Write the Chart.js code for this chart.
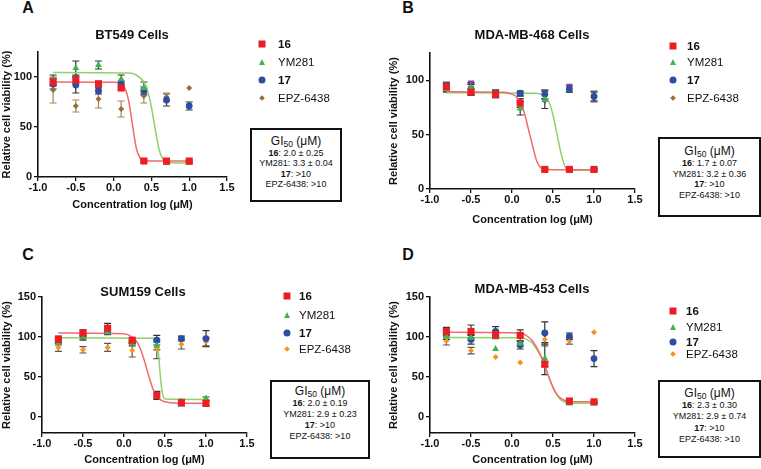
<!DOCTYPE html>
<html><head><meta charset="utf-8">
<script src="https://cdn.jsdelivr.net/npm/chart.js@4.4.0/dist/chart.umd.min.js"></script>
<style>
body{margin:0;width:761px;height:469px;background:#fff;position:relative;overflow:hidden;font-family:"Liberation Sans",Arial,sans-serif;color:#111;}
canvas{position:absolute;}
.letter{position:absolute;font-weight:bold;font-size:16px;transform:translate(-50%,-50%);}
.ptitle{position:absolute;font-weight:bold;font-size:13px;transform:translate(-50%,-50%);white-space:nowrap;}
.leg{position:absolute;font-size:11.5px;white-space:nowrap;transform:translateY(-50%);line-height:13px;}
.mk{position:absolute;transform:translate(-50%,-50%);}
.box{position:absolute;border:2px solid #111;box-sizing:border-box;text-align:center;white-space:nowrap;}
.box .t{font-size:12px;}
.box .l{font-size:9px;}
sub{font-size:8.5px;vertical-align:-2px;line-height:0;}
</style></head><body>
<script>
// ---------- shared data ----------
const concLog = [-0.8, -0.5, -0.2, 0.1, 0.4, 0.7, 1.0];
const xTicks = [-1.0, -0.5, 0.0, 0.5, 1.0, 1.5];
const yTicksAB = [0, 50, 100];
const yTicksCD = [0, 50, 100, 150];
const seriesNames = ['16', 'YM281', '17', 'EPZ-6438'];
const panelTitles = ['BT549 Cells', 'MDA-MB-468 Cells', 'SUM159 Cells', 'MDA-MB-453 Cells'];
const panelLetters = ['A', 'B', 'C', 'D'];

// ---------- A: BT549 ----------
const a16 = [95, 97, 93, 89, 16, 16, 16];
const a16Err = [4, 4, 3, 2, 1, 1, 1];
const aYM = [97, 109, 112, 98, 89, 14, 14];
const aYMErr = [5, 7, 4, 4, 6, 1, 1];
const a17 = [93, 92, 86, 93, 86, 77, 71];
const a17Err = [5, 8, 3, 3, 4, 6, 4];
const aEPZ = [87, 71, 78, 68, 81, 80, 89];
const aEPZErr = [13, 6, 9, 8, 7, 4, 0];
const aFit16X = [-0.8, 0.0, 0.1, 0.15, 0.2, 0.25, 0.3, 0.35, 0.4, 0.5, 1.0];
const aFit16Y = [95, 94.8, 93.5, 89, 76, 52, 29, 19, 16.5, 16, 16];
const aFitYMX = [-0.8, 0.2, 0.3, 0.4, 0.45, 0.5, 0.55, 0.6, 0.65, 0.7, 1.0];
const aFitYMY = [104.5, 104, 102, 95, 86, 70, 48, 28, 18, 14.5, 14];
const aGI = ['2.0 ± 0.25', '3.3 ± 0.04', '>10', '>10'];

// ---------- B: MDA-MB-468 ----------
const b16 = [94, 89, 87, 79, 18, 18, 18];
const b16Err = [3, 3, 3, 4, 1, 1, 1];
const bYM = [92, 93, 88, 74, 82, 18, 17];
const bYMErr = [3, 5, 3, 6, 8, 1, 1];
const b17 = [95, 92, 88, 88, 87, 92, 85];
const b17Err = [3, 4, 3, 2, 4, 3, 4];
const bEPZ = [94, 92, 87, 87, 87, 92, 85];
const bEPZErr = [4, 5, 3, 2, 4, 3, 5];
const bExtra = [96, 98, 88, null, 81, 95, 85];
const bFit16X = [-0.8, -0.1, 0.0, 0.05, 0.1, 0.15, 0.2, 0.25, 0.3, 0.35, 0.4, 1.0];
const bFit16Y = [89.5, 89, 87, 85, 80, 70, 55, 40, 26, 19.5, 18, 17.7];
const bFitYMX = [-0.8, 0.3, 0.4, 0.45, 0.5, 0.55, 0.6, 0.65, 0.7, 1.0];
const bFitYMY = [88.5, 88, 85, 80, 68, 50, 32, 20, 17.5, 17.2];
const bGI = ['1.7 ± 0.07', '3.2 ± 0.36', '>10', '>10'];

// ---------- C: SUM159 ----------
const c16 = [97, 105, 111, 96, 27, 18, 17];
const c16Err = [4, 4, 6, 3, 5, 4, 3];
const cYM = [93, 100, 106, 92, 89, 19, 23];
const cYMErr = [3, 4, 3, 3, 5, 2, 2];
const c17 = [96, 102, 107, 95, 96, 98, 98];
const c17Err = [3, 4, 3, 3, 6, 3, 10];
const cEPZ = [87, 84, 87, 83, 85, 91, 94];
const cEPZErr = [5, 4, 5, 8, 12, 6, 5];
const cFit16X = [-0.8, 0.0, 0.1, 0.15, 0.2, 0.25, 0.3, 0.35, 0.4, 0.45, 0.5, 0.6, 1.0];
const cFit16Y = [105, 104, 100, 95, 85, 70, 52, 36, 26, 21, 19, 17.5, 17];
const cFitYMX = [-0.8, 0.38, 0.4, 0.42, 0.44, 0.46, 0.48, 0.5, 1.0];
const cFitYMY = [99, 98.5, 95, 80, 55, 35, 25, 22.5, 22];
const cGI = ['2.0 ± 0.19', '2.9 ± 0.23', '>10', '>10'];

// ---------- D: MDA-MB-453 ----------
const d16 = [107, 107, 103, 102, 66, 20, 19];
const d16Err = [5, 8, 5, 7, 3, 2, 1];
const dYM = [101, 99, 85, 92, 73, 17, 17];
const dYMErr = [4, 3, 0, 3, 20, 1, 1];
const d17 = [103, 97, 107, 90, 105, 101, 73];
const d17Err = [6, 6, 6, 5, 14, 4, 10];
const dEPZ = [95, 83, 75, 68, 97, 95, 106];
const dEPZErr = [5, 4, 0, 0, 8, 4, 0];
const dFit16X = [-0.8, 0.1, 0.2, 0.25, 0.3, 0.35, 0.4, 0.45, 0.5, 0.55, 0.6, 0.65, 0.7, 1.0];
const dFit16Y = [106, 105, 100, 95, 87, 77, 64, 50, 37, 28, 23, 20.5, 19.5, 19];
const dFitYMX = [-0.8, 0.1, 0.2, 0.25, 0.3, 0.35, 0.4, 0.45, 0.5, 0.55, 0.6, 0.65, 0.7, 1.0];
const dFitYMY = [99.5, 99, 96, 92, 85, 76, 64, 50, 37, 27, 21, 18.5, 17.5, 17];
const dGI = ['2.3 ± 0.30', '2.9 ± 0.74', '>10', '>10'];

// ---------- styles ----------
const RED = '#EE1D24', GREEN = '#3DB54A', BLUE = '#2B4DA6', BROWN = '#9B6B3A', ORANGE = '#F7931E', PURPLE = '#8B3FA3';
const RED_LINE = '#F26A6A', GREEN_LINE = '#8FD16E';
const FONT = '"Liberation Sans", Arial, sans-serif';

const pts = (ys) => concLog.map((x, i) => ({x, y: ys[i]}));
const curve = (xs, ys) => xs.map((x, i) => ({x, y: ys[i]}));

const errorBars = {
  id: 'errorBars',
  beforeDatasetsDraw(chart) {
    const ctx = chart.ctx, ys = chart.scales.y;
    chart.data.datasets.forEach((ds, i) => {
      if (!ds.errors) return;
      const meta = chart.getDatasetMeta(i);
      ctx.save();
      ctx.strokeStyle = ds.errorColor || '#333';
      ctx.lineWidth = 1.2;
      meta.data.forEach((pt, j) => {
        const e = ds.errors[j], v = ds.data[j].y;
        if (!e || v == null) return;
        const y1 = ys.getPixelForValue(v + e), y2 = ys.getPixelForValue(v - e);
        ctx.beginPath();
        ctx.moveTo(pt.x, y1); ctx.lineTo(pt.x, y2);
        ctx.moveTo(pt.x - 3.5, y1); ctx.lineTo(pt.x + 3.5, y1);
        ctx.moveTo(pt.x - 3.5, y2); ctx.lineTo(pt.x + 3.5, y2);
        ctx.stroke();
      });
      ctx.restore();
    });
  }
};

function markerDs(label, ys, errs, color, style, r, order, errColor, rot) {
  return {label, data: pts(ys), errors: errs, errorColor: errColor || '#333',
    pointStyle: style, pointRadius: r, pointRotation: rot || 0, backgroundColor: color, borderColor: color,
    borderWidth: 0, showLine: false, order};
}
function fitDs(xs, ys, color) {
  return {data: curve(xs, ys), showLine: true, pointRadius: 0, borderColor: color, borderWidth: 1.5,
    cubicInterpolationMode: 'monotone', fill: false, order: 20};
}

function makePanel(g, yMin, yMax, yTicks, datasets) {
  const c = document.createElement('canvas');
  const cw = g.R + g.padRight - g.cx, ch = g.B + g.xH - g.cy;
  c.width = cw; c.height = ch;
  c.style.left = g.cx + 'px'; c.style.top = g.cy + 'px';
  c.style.width = cw + 'px'; c.style.height = ch + 'px';
  document.body.appendChild(c);
  const axisColor = '#111';
  new Chart(c, {
    type: 'scatter',
    data: {datasets},
    plugins: [errorBars],
    options: {
      responsive: false, animation: false, devicePixelRatio: 1,
      layout: {padding: {left: 0, top: g.T - g.cy, right: g.padRight, bottom: 0}},
      plugins: {legend: {display: false}, tooltip: {enabled: false}},
      scales: {
        x: {type: 'linear', min: -1, max: 1.5,
          afterBuildTicks: s => { s.ticks = xTicks.map(v => ({value: v})); },
          afterFit: s => { s.height = g.xH; },
          ticks: {callback: v => Number(v).toFixed(1), font: {family: FONT, size: 11, weight: 'bold'}, color: axisColor, padding: 0, maxRotation: 0, autoSkip: false},
          grid: {display: true, drawOnChartArea: false, drawTicks: true, tickLength: 4, color: axisColor, lineWidth: 1.3},
          border: {display: true, color: axisColor, width: 1.6},
          title: {display: true, text: 'Concentration log (μM)', font: {family: FONT, size: 11, weight: 'bold'}, color: axisColor, padding: {top: 4, bottom: 4}}
        },
        y: {type: 'linear', min: yMin, max: yMax,
          afterBuildTicks: s => { s.ticks = yTicks.map(v => ({value: v})); },
          afterFit: s => { s.width = g.L - g.cx; },
          ticks: {font: {family: FONT, size: 11, weight: 'bold'}, color: axisColor, padding: 2},
          grid: {display: true, drawOnChartArea: false, drawTicks: true, tickLength: 4, color: axisColor, lineWidth: 1.3},
          border: {display: true, color: axisColor, width: 1.6},
          title: {display: true, text: 'Relative cell viability (%)', font: {family: FONT, size: 11, weight: 'bold'}, color: axisColor, padding: {top: 0, bottom: 0}}
        }
      }
    }
  });
}

function addDiv(cls, html, x, y) {
  const d = document.createElement('div');
  d.className = cls; d.innerHTML = html;
  d.style.left = x + 'px'; d.style.top = y + 'px';
  document.body.appendChild(d);
  return d;
}

function marker(kind, color, x, y) {
  const m = document.createElement('div');
  m.className = 'mk';
  m.style.left = x + 'px'; m.style.top = y + 'px';
  if (kind === 'square') { m.style.width = '7px'; m.style.height = '7px'; m.style.background = color; }
  else if (kind === 'circle') { m.style.width = '7px'; m.style.height = '7px'; m.style.borderRadius = '50%'; m.style.background = color; }
  else if (kind === 'tri') { m.style.width = '0'; m.style.height = '0'; m.style.borderLeft = '3.5px solid transparent'; m.style.borderRight = '3.5px solid transparent'; m.style.borderBottom = '6px solid ' + color; }
  else { m.style.width = '4px'; m.style.height = '4px'; m.style.background = color; m.style.transform = 'translate(-50%,-50%) rotate(45deg)'; }
  document.body.appendChild(m);
}

function legend(lg, epzColor) {
  const kinds = ['square', 'tri', 'circle', 'diamond'];
  const cols = [RED, GREEN, BLUE, epzColor];
  seriesNames.forEach((n, i) => {
    marker(kinds[i], cols[i], lg.mx, lg.rows[i]);
    const bold = (n === '16' || n === '17');
    addDiv('leg', bold ? '<b>' + n + '</b>' : n, lg.tx, lg.rows[i]);
  });
}

function giBox(b, vals) {
  const d = document.createElement('div');
  d.className = 'box';
  Object.assign(d.style, {left: b.left + 'px', top: b.top + 'px', width: b.w + 'px', height: b.h + 'px', paddingTop: b.pad + 'px'});
  let html = '<div class="t" style="line-height:' + b.tlh + 'px">GI<sub>50</sub> (μM)</div>';
  seriesNames.forEach((n, i) => {
    const bold = (n === '16' || n === '17');
    html += '<div class="l" style="line-height:' + b.llh + 'px">' + (bold ? '<b>' + n + '</b>' : n) + ': ' + vals[i] + '</div>';
  });
  d.innerHTML = html;
  document.body.appendChild(d);
}

function seriesSets(v16, e16, vYM, eYM, v17, e17, vEPZ, eEPZ, epzColor, epzErrColor, f16x, f16y, fYMx, fYMy) {
  return [
    markerDs('16', v16, e16, RED, 'rect', 5, 1),
    markerDs('YM281', vYM, eYM, GREEN, 'triangle', 4, 2),
    markerDs('17', v17, e17, BLUE, 'circle', 3.4, 3),
    markerDs('EPZ-6438', vEPZ, eEPZ, epzColor, 'rectRot', 3.0, 4, epzErrColor),
    fitDs(f16x, f16y, RED_LINE),
    fitDs(fYMx, fYMy, GREEN_LINE)
  ];
}

// ---------- panel A ----------
makePanel({cx: 0, cy: 40, L: 38, T: 52, R: 227, B: 177, padRight: 12, xH: 39}, 0, 125, yTicksAB,
  seriesSets(a16, a16Err, aYM, aYMErr, a17, a17Err, aEPZ, aEPZErr, BROWN, '#A8825A', aFit16X, aFit16Y, aFitYMX, aFitYMY));
// ---------- panel B ----------
const bSets = seriesSets(b16, b16Err, bYM, bYMErr, b17, b17Err, bEPZ, bEPZErr, BROWN, '#555', bFit16X, bFit16Y, bFitYMX, bFitYMY);
bSets.splice(3, 0, markerDs('', bExtra, null, PURPLE, 'triangle', 3.8, 3.5, null, 180));
makePanel({cx: 387, cy: 40, L: 430, T: 53, R: 635, B: 189, padRight: 12, xH: 42}, 0, 125, yTicksAB, bSets);
// ---------- panel C ----------
makePanel({cx: 0, cy: 270, L: 42, T: 297, R: 247, B: 433, padRight: 12, xH: 38}, -20, 150, yTicksCD,
  seriesSets(c16, c16Err, cYM, cYMErr, c17, c17Err, cEPZ, cEPZErr, ORANGE, '#555', cFit16X, cFit16Y, cFitYMX, cFitYMY));
// ---------- panel D ----------
makePanel({cx: 387, cy: 270, L: 430, T: 297, R: 635, B: 433, padRight: 12, xH: 38}, -20, 150, yTicksCD,
  seriesSets(d16, d16Err, dYM, dYMErr, d17, d17Err, dEPZ, dEPZErr, ORANGE, '#555', dFit16X, dFit16Y, dFitYMX, dFitYMY));

// ---------- text: letters, titles ----------
[[28, 8], [408, 8], [28, 255], [408, 255]].forEach((p, i) => addDiv('letter', panelLetters[i], p[0], p[1]));
[[132, 34], [532, 34], [143, 291], [532, 288]].forEach((p, i) => addDiv('ptitle', panelTitles[i], p[0], p[1]));

// ---------- legends ----------
legend({mx: 262, tx: 278, rows: [44, 62, 80, 98]}, BROWN);
legend({mx: 673, tx: 687, rows: [46, 62, 80, 98]}, BROWN);
legend({mx: 287, tx: 299, rows: [296, 315, 333, 349]}, ORANGE);
legend({mx: 673, tx: 686, rows: [311, 327, 342, 354]}, ORANGE);

// ---------- GI50 boxes ----------
giBox({left: 250, top: 128, w: 92, h: 74, pad: 4, tlh: 14, llh: 10.3}, aGI);
giBox({left: 658, top: 137, w: 103, h: 80, pad: 5, tlh: 14, llh: 10.5}, bGI);
giBox({left: 270, top: 380, w: 100, h: 79, pad: 3, tlh: 13, llh: 11}, cGI);
giBox({left: 658, top: 380, w: 103, h: 78, pad: 4, tlh: 14, llh: 11.3}, dGI);
</script>
</body></html>
